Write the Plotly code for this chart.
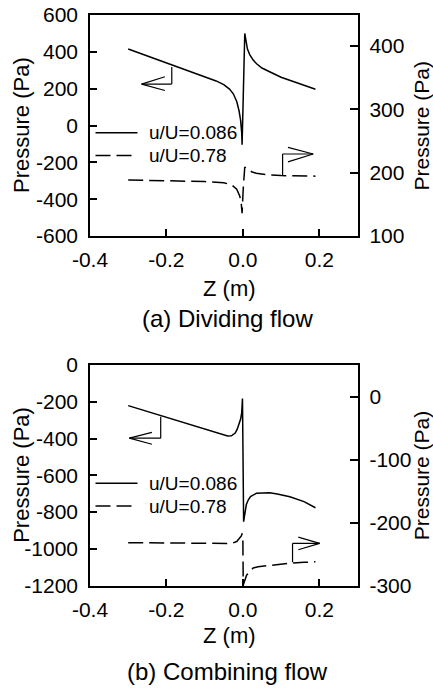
import plotly.graph_objects as go

# ---------------- data ----------------
# (a) Dividing flow, u/U=0.086 (left axis, Pa)
a_solid_z = [-0.30, -0.25, -0.20, -0.15, -0.10, -0.07, -0.05, -0.035, -0.025, -0.016,
             -0.010, -0.006, -0.003, -0.002, 0.005, 0.008, 0.012, 0.018, 0.027, 0.036,
             0.05, 0.07, 0.10, 0.13, 0.16, 0.19]
a_solid_p = [415, 378, 341, 304, 266, 242, 222, 198, 172, 130,
             80, 30, -40, -105, 500, 450, 415, 385, 355, 335,
             312, 292, 262, 240, 218, 197]
# (a) Dividing flow, u/U=0.78 (right axis, Pa)
a_dash_z = [-0.30, -0.20, -0.10, -0.05, -0.03, -0.016, -0.008, -0.004, -0.002,
            0.001, 0.003, 0.005, 0.008, 0.015, 0.023, 0.035, 0.05, 0.07, 0.10, 0.13, 0.16, 0.19]
a_dash_p = [188.5, 187.5, 186, 184, 181, 174, 163, 150, 136,
            175, 200, 209, 207, 204, 201.5, 199, 197.5, 196.5, 195.5, 195, 194.7, 194.5]

# (b) Combining flow, u/U=0.086 (left axis, Pa)
b_solid_z = [-0.30, -0.25, -0.20, -0.15, -0.10, -0.07, -0.05, -0.04, -0.03, -0.02,
             -0.015, -0.010, -0.006, -0.003, -0.001, 0.002, 0.005, 0.009, 0.014, 0.02,
             0.036, 0.053, 0.07, 0.09, 0.123, 0.16, 0.19]
b_solid_p = [-221, -253, -286, -318, -350, -369, -382, -386, -385, -370,
             -350, -325, -295, -260, -182, -852, -800, -760, -734, -715,
             -697, -694, -695, -702, -716, -743, -776]
# (b) Combining flow, u/U=0.78 (right axis, Pa)
b_dash_z = [-0.30, -0.20, -0.10, -0.05, -0.03, -0.016, -0.008, -0.004, -0.002,
            0.0, 0.001, 0.005, 0.010, 0.018, 0.027, 0.04, 0.079, 0.12, 0.16, 0.19]
b_dash_p = [-231.7, -232.5, -233.3, -234, -233, -230, -225, -221, -217,
            -225, -299, -290, -283, -278, -272, -270, -267, -264.5, -263, -262]

series_names = ["u/U=0.086", "u/U=0.78"]
x_ticks = [-0.4, -0.2, 0.0, 0.2]
x_tick_text = ["-0.4", "-0.2", "0.0", "0.2"]
a_left_ticks = [600, 400, 200, 0, -200, -400, -600]
a_right_ticks = [100, 200, 300, 400]
b_left_ticks = [0, -200, -400, -600, -800, -1000, -1200]
b_right_ticks = [-300, -200, -100, 0]
captions = ["(a) Dividing flow", "(b) Combining flow"]

# ---------------- layout helpers ----------------
W, H = 433, 689
FONT = "Liberation Sans, Arial, sans-serif"
LW = 1.5
DASH = "15px,6px"


def px(xp):
    return xp / W


def py(yp):
    return 1 - yp / H


def labels(vals):
    return [str(v) for v in vals]  # plain hyphen minus, as in the reference


xdom = [px(90), px(357.5)]
dom_a = [py(236), py(15)]
dom_b = [py(585.7), py(365)]

fig = go.Figure()

fig.add_trace(go.Scatter(x=a_solid_z, y=a_solid_p, mode="lines", xaxis="x", yaxis="y",
                         line=dict(color="black", width=LW), name=series_names[0], showlegend=False))
fig.add_trace(go.Scatter(x=a_dash_z, y=a_dash_p, mode="lines", xaxis="x", yaxis="y2",
                         line=dict(color="black", width=LW, dash=DASH), name=series_names[1], showlegend=False))
fig.add_trace(go.Scatter(x=b_solid_z, y=b_solid_p, mode="lines", xaxis="x2", yaxis="y3",
                         line=dict(color="black", width=LW), name=series_names[0], showlegend=False))
fig.add_trace(go.Scatter(x=b_dash_z, y=b_dash_p, mode="lines", xaxis="x2", yaxis="y4",
                         line=dict(color="black", width=LW, dash=DASH), name=series_names[1], showlegend=False))

tickfont = dict(family=FONT, size=21, color="black")
common_x = dict(domain=xdom, range=[-0.4, 0.3], tickvals=x_ticks, ticktext=x_tick_text,
                ticks="inside", ticklen=7, tickwidth=LW, tickcolor="black",
                showline=True, linecolor="black", linewidth=LW, mirror=True, automargin=False,
                showgrid=False, zeroline=False, tickfont=tickfont, ticklabelstandoff=4)
common_yl = dict(ticks="inside", ticklen=7, tickwidth=LW, tickcolor="black",
                 showline=True, linecolor="black", linewidth=LW, automargin=False,
                 showgrid=False, zeroline=False, tickfont=tickfont, ticklabelstandoff=6)
common_yr = dict(side="right", ticks="inside", ticklen=8, tickwidth=LW, tickcolor="black",
                 showline=True, linecolor="black", linewidth=LW, automargin=False,
                 showgrid=False, zeroline=False, tickfont=tickfont, ticklabelstandoff=6)

fig.update_layout(
    template="none",
    width=W, height=H,
    margin=dict(l=0, r=0, t=0, b=0, autoexpand=False),
    paper_bgcolor="white", plot_bgcolor="white",
    showlegend=False,
    xaxis=dict(anchor="y", **common_x),
    xaxis2=dict(anchor="y3", **common_x),
    yaxis=dict(domain=dom_a, anchor="x", range=[-600, 600], tickvals=a_left_ticks,
               ticktext=labels(a_left_ticks), **common_yl),
    yaxis2=dict(overlaying="y", anchor="x", range=[100, 449], tickvals=a_right_ticks,
                ticktext=labels(a_right_ticks), **common_yr),
    yaxis3=dict(domain=dom_b, anchor="x2", range=[-1200, 0], tickvals=b_left_ticks,
                ticktext=labels(b_left_ticks), **common_yl),
    yaxis4=dict(overlaying="y3", anchor="x2", range=[-300, 50], tickvals=b_right_ticks,
                ticktext=labels(b_right_ticks), **common_yr),
)

shapes = []
annotations = []

# ---------- legends (drawn manually) ----------
legend_rows = [(132.8, 155.5), (483.3, 506)]
for rows in legend_rows:
    for i, yp in enumerate(rows):
        shapes.append(dict(type="line", xref="paper", yref="paper",
                           x0=px(95.5), x1=px(137.5), y0=py(yp), y1=py(yp),
                           line=dict(color="black", width=LW, dash=None if i == 0 else DASH)))
        annotations.append(dict(text=series_names[i], xref="paper", yref="paper",
                                x=px(147), y=py(yp), xanchor="left", yanchor="middle",
                                showarrow=False, font=dict(family=FONT, size=19, color="black")))

# ---------- axis-pointing arrows ----------
def arrow(xr, yr, corner, top, tip, barb_x, barb_y1, barb_y2):
    segs = [(corner[0], top, corner[0], corner[1]),
            (corner[0], corner[1], tip[0], tip[1]),
            (tip[0], tip[1], barb_x, barb_y1),
            (tip[0], tip[1], barb_x, barb_y2)]
    for x0, y0, x1, y1 in segs:
        shapes.append(dict(type="line", xref=xr, yref=yr, x0=x0, y0=y0, x1=x1, y1=y1,
                           line=dict(color="black", width=1.2)))

# (a) left-pointing arrow (solid curve -> left axis)
arrow("x", "y", corner=(-0.186, 225), top=318, tip=(-0.265, 225), barb_x=-0.204, barb_y1=265, barb_y2=190)
# (a) right-pointing arrow (dashed curve -> right axis)
arrow("x", "y2", corner=(0.104, 229.5), top=195.5, tip=(0.184, 229.5), barb_x=0.118, barb_y1=240, barb_y2=217)
# (b) left-pointing arrow
arrow("x2", "y3", corner=(-0.215, -398), top=-282, tip=(-0.297, -398), barb_x=-0.238, barb_y1=-366, barb_y2=-431)
# (b) right-pointing arrow
arrow("x2", "y4", corner=(0.130, -233), top=-263, tip=(0.201, -233), barb_x=0.145, barb_y1=-223, barb_y2=-243)

# ---------- axis titles & captions ----------
title_font = dict(family=FONT, size=22, color="black")
for yc in (125.5, 475.3):
    annotations.append(dict(text="Pressure (Pa)", xref="paper", yref="paper", x=px(21.5), y=py(yc),
                            textangle=-90, xanchor="center", yanchor="middle", showarrow=False, font=title_font))
    annotations.append(dict(text="Pressure (Pa)", xref="paper", yref="paper", x=px(421), y=py(yc),
                            textangle=-90, xanchor="center", yanchor="middle", showarrow=False,
                            font=dict(family=FONT, size=21, color="black")))
for yc in (288, 635):
    annotations.append(dict(text="Z (m)", xref="paper", yref="paper", x=px(229), y=py(yc),
                            xanchor="center", yanchor="middle", showarrow=False, font=title_font))
for cap, yc in zip(captions, (318, 671.5)):
    annotations.append(dict(text=cap, xref="paper", yref="paper", x=px(227), y=py(yc),
                            xanchor="center", yanchor="middle", showarrow=False,
                            font=dict(family=FONT, size=24, color="black")))

fig.update_layout(shapes=shapes, annotations=annotations)
fig.write_html("out.html", config={"displayModeBar": False},
               post_script="document.body.style.margin='0';document.body.style.overflow='hidden';")
